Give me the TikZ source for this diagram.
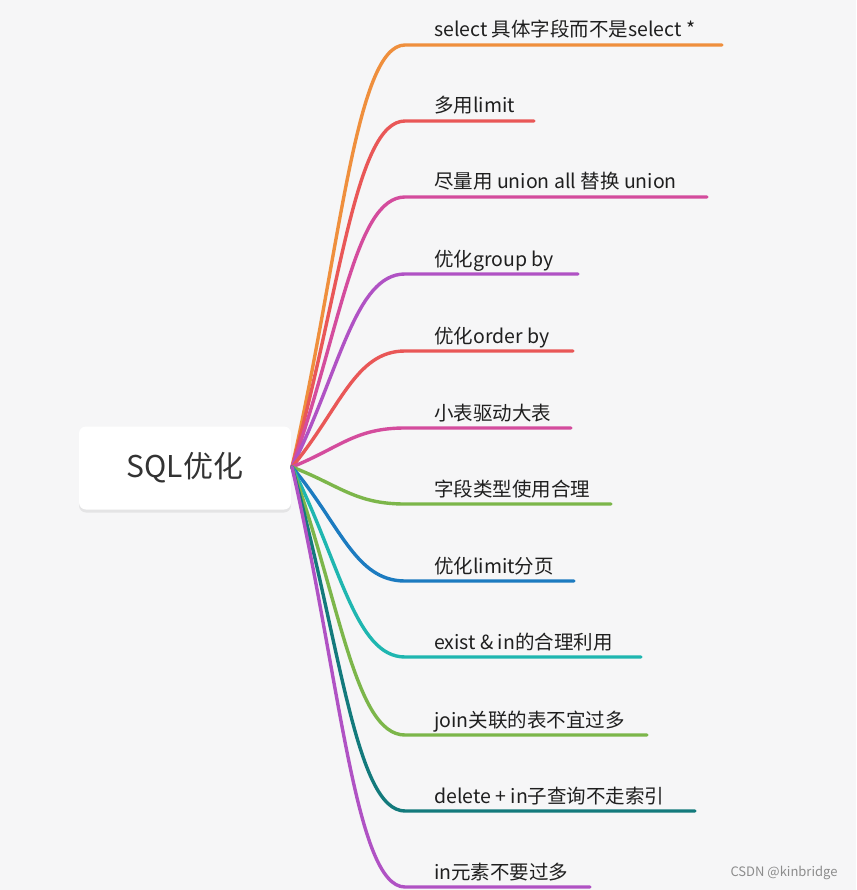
\documentclass[tikz,border=0pt]{standalone}
\usepackage{fontspec}
\setmainfont{Noto Sans CJK SC}
\usetikzlibrary{shadows}

\definecolor{bgc}{HTML}{F6F6F7}
\definecolor{cOra}{HTML}{EF8F3D}
\definecolor{cRed}{HTML}{E95757}
\definecolor{cPnk}{HTML}{D44C9D}
\definecolor{cPur}{HTML}{B052C4}
\definecolor{cGrn}{HTML}{7CB64A}
\definecolor{cBlu}{HTML}{1C7BC0}
\definecolor{cTea}{HTML}{1FB6B0}
\definecolor{cDtl}{HTML}{137A7C}

\begin{document}
\begin{tikzpicture}[
    x=1pt, y=-1pt,
    line/.style  = {line width=3.4pt, line cap=round},
    topic/.style = {draw=none, fill=white, rounded corners=7pt,
                    minimum width=212pt, minimum height=83pt,
                    text=black!80, font=\fontsize{30}{30}\selectfont,
                    drop shadow={shadow xshift=0pt, shadow yshift=-3pt,
                                 opacity=0.07, fill=black}},
    leaf/.style  = {anchor=base west, inner sep=0pt, text=black!88,
                    font=\fontsize{19.5}{20}\selectfont},
    wmark/.style = {text=black!45, font=\fontsize{13}{13}\selectfont}
]

% canvas
\fill[bgc] (0,0) rectangle (856,890);
\useasboundingbox (0,0) rectangle (856,890);

% central topic
\node[topic] (root) at (185,468) {SQL优化};
\coordinate (hub) at (292,467);

% branches: curve from the hub, then a straight rule under each label
\foreach \i/\col/\y/\xe/\txt in {
    1/cOra/45/722/{select 具体字段而不是select *},
    2/cRed/121/534/{多用limit},
    3/cPnk/197/707/{尽量用 union all 替换 union},
    4/cPur/274/578/{优化group by},
    5/cRed/351/573/{优化order by},
    6/cPnk/428/571/{小表驱动大表},
    7/cGrn/504/611/{字段类型使用合理},
    8/cBlu/581/574/{优化limit分页},
    9/cTea/657/641/{exist \& in的合理利用},
    10/cGrn/735/647/{join关联的表不宜过多},
    11/cDtl/811/695/{delete + in子查询不走索引},
    12/cPur/887/590/{in元素不要过多}}
{
    \node[leaf] (b\i) at (434,\y-8) {\txt};
    \coordinate (k\i) at (405,\y);
    \coordinate (e\i) at (\xe,\y);
    \draw[line, \col] (hub) .. controls (340,{0.5*(467+\y)}) and (355,\y) .. (k\i) -- (e\i);
}

% watermark
\node[wmark] (wm) at (784,873) {CSDN @kinbridge};

\end{tikzpicture}
\end{document}
